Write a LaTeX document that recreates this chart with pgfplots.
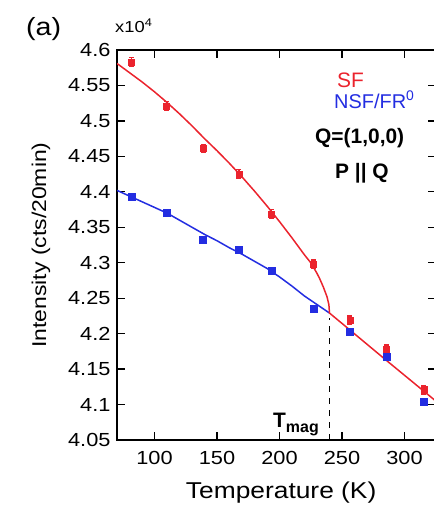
\documentclass[border=0pt]{standalone}
\usepackage{fontspec}
\setmainfont{Liberation Sans}
\newfontfamily\widefont[FakeStretch=1.15]{Liberation Sans}
\usepackage{pgfplots}
\pgfplotsset{compat=1.18}
\definecolor{myred}{RGB}{235,35,45}
\definecolor{myblue}{RGB}{35,45,225}
\newcommand{\fs}[1]{\fontsize{#1}{#1}\selectfont}
\begin{document}
\begin{tikzpicture}[x=1bp,y=1bp]
\path[use as bounding box] (0,0) rectangle (434,509);
\begin{axis}[
  at={(117bp,69bp)}, anchor=south west,
  scale only axis, width=318.75bp, height=390bp,
  xmin=70, xmax=325, ymin=4.05, ymax=4.6,
  xtick={100,150,200,250,300},
  ytick={4.05,4.1,4.15,4.2,4.25,4.3,4.35,4.4,4.45,4.5,4.55,4.6},
  yticklabels={4.05,4.1,4.15,4.2,4.25,4.3,4.35,4.4,4.45,4.5,4.55,4.6},
  tick pos=both, tick align=inside, major tick length=8bp,
  axis line style={line width=1.3bp, black},
  every tick/.style={line width=1.3bp, black},
  /pgf/number format/assume math mode=true,
  yticklabel style={font=\widefont\fs{19}, xshift=-3bp},
  xticklabel style={font=\widefont\fs{19}, yshift=-8bp},
  xlabel={Temperature (K)}, ylabel={Intensity (cts/20min)},
  xlabel style={at={(axis description cs:0.515,-0.1359)}, anchor=center, font=\widefont\fs{23}},
  ylabel style={at={(axis description cs:-0.2384,0.5)}, anchor=center, font=\widefont\fs{20}},
]
\addplot[myblue, line width=1.5bp] coordinates {
(70,4.402)(80,4.394)(90,4.386)(100,4.378)(110,4.370)(120,4.360)(130,4.350)(140,4.340)(150,4.331)(160,4.321)(170,4.312)(180,4.302)(190,4.292)(200,4.280)(210,4.267)(220,4.253)(230,4.241)(240,4.229)};
\addplot[myred, line width=1.5bp] coordinates {
(70,4.581)(80,4.568)(90,4.555)(100,4.541)(110,4.526)(120,4.510)(130,4.493)(140,4.475)(150,4.458)(160,4.440)(170,4.421)(180,4.401)(190,4.380)(200,4.358)(210,4.335)(220,4.311)(225,4.300)(230,4.285)(232,4.278)(235,4.266)(238,4.252)(239.5,4.241)(240,4.229)(256,4.2056)(285,4.163)(325,4.105)};
\addplot[only marks, mark=square*, mark size=3.5bp, color=myblue] coordinates {
(81.6,4.393)(109.6,4.371)(138.9,4.332)(167.5,4.318)(193.6,4.289)(227,4.235)(256.2,4.203)(285.4,4.167)(315.5,4.104)};
\addplot[only marks, mark=square*, mark size=3bp, color=myred,
  error bars/.cd, y dir=both, y explicit, error bar style={line width=1.3bp, myred}, error mark options={rotate=90, mark size=2.5bp, line width=1.3bp, myred}] coordinates {
(81.6,4.583) +- (0,0.006)
(109.6,4.521) +- (0,0.006)
(138.9,4.461) +- (0,0.006)
(167.5,4.425) +- (0,0.006)
(193.6,4.369) +- (0,0.006)
(227,4.298) +- (0,0.006)
(256.2,4.219) +- (0,0.006)
(285.4,4.178) +- (0,0.006)
(315.5,4.121) +- (0,0.006)};
\draw[black, line width=1.5bp, dash pattern=on 6bp off 6bp] (axis cs:240,4.05) -- (axis cs:240,4.222);
\node[anchor=base west, text=myred, font=\fs{21}, inner sep=0] at (axis cs:246,4.5474) {SF};
\node[anchor=base west, text=myblue, font=\fs{20}, inner sep=0] at (axis cs:243.6,4.5178) {NSF/FR\textsuperscript{0}};
\node[anchor=base west, font=\bfseries\fs{21}, inner sep=0] at (axis cs:228.4,4.4684) {Q=(1,0,0)};
\node[anchor=base west, font=\bfseries\fs{21}, inner sep=0] at (axis cs:244.4,4.419) {P || Q};
\node[anchor=base west, font=\bfseries\fs{21}, inner sep=0] at (axis cs:194.8,4.0683) {T\raisebox{-5bp}{\fs{16}mag}};
\end{axis}
\node[anchor=base west, inner sep=0, font=\widefont\fs{25}] at (26,473) {(a)};
\node[anchor=base west, inner sep=0, font=\widefont\fs{16}] at (115,476) {x10\textsuperscript{4}};
\end{tikzpicture}
\end{document}
